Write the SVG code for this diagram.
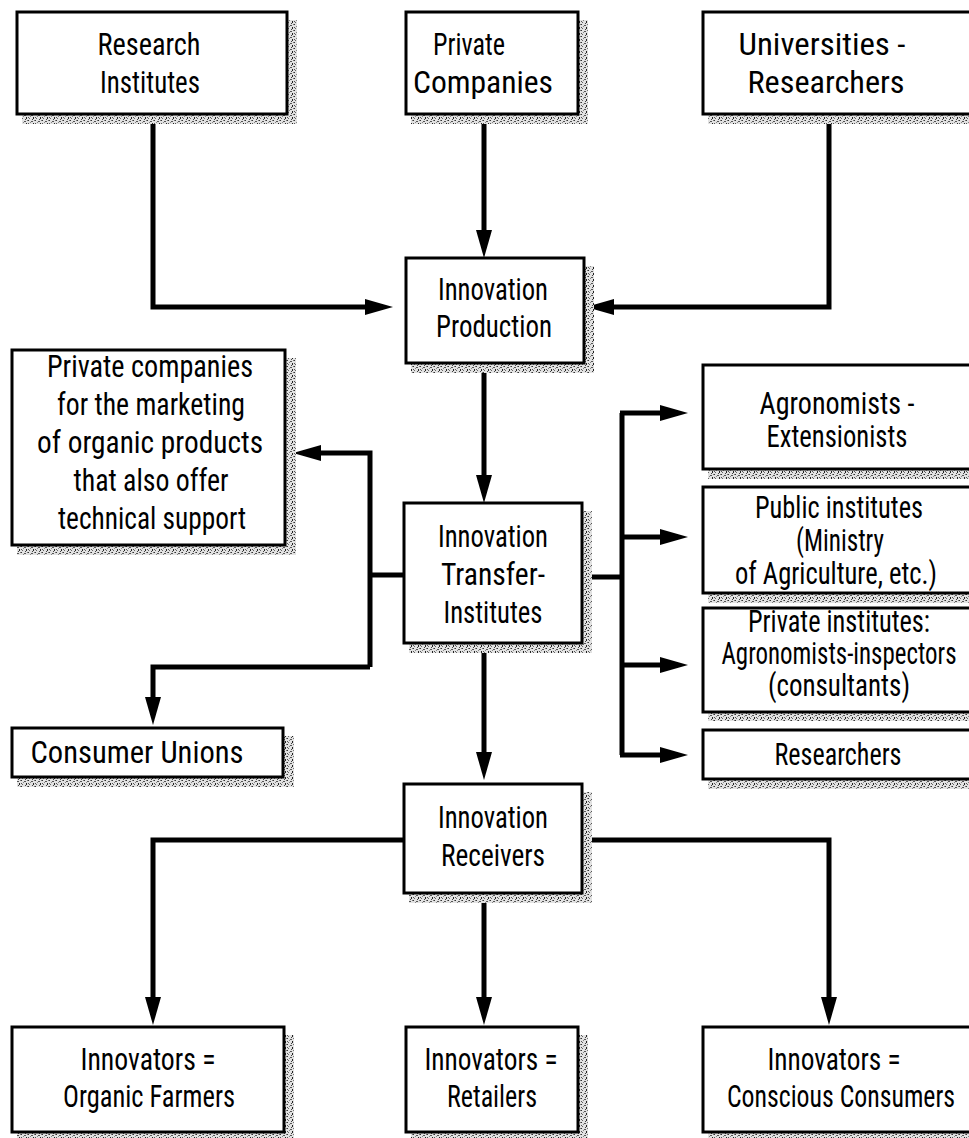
<svg xmlns="http://www.w3.org/2000/svg" width="969" height="1138" viewBox="0 0 969 1138">
<defs>
<pattern id="speck" width="7" height="6" patternUnits="userSpaceOnUse">
<rect width="7" height="6" fill="#e2e2e2"/>
<rect x="0" y="0" width="1" height="1" fill="#333"/>
<rect x="3" y="1" width="2" height="1" fill="#555"/>
<rect x="5" y="3" width="1" height="2" fill="#222"/>
<rect x="1" y="4" width="1" height="1" fill="#666"/>
<rect x="2" y="2" width="1" height="1" fill="#888"/>
<rect x="6" y="0" width="1" height="1" fill="#777"/>
<rect x="4" y="5" width="1" height="1" fill="#444"/>
<rect x="0" y="3" width="1" height="1" fill="#555"/>
</pattern>
<marker id="ah" markerUnits="userSpaceOnUse" markerWidth="30" markerHeight="18" refX="18" refY="8" orient="auto">
<path d="M0,0 L28,8 L0,16 Z" fill="#000"/>
</marker>
</defs>
<style>
.box{fill:#fff;stroke:#000;stroke-width:3}
.sh{fill:url(#speck)}
.c{fill:none;stroke:#000;stroke-width:5;stroke-linejoin:miter}
.a{marker-end:url(#ah)}
text{font-family:"Liberation Sans Narrow","Roboto Condensed","DejaVu Sans Condensed","Liberation Sans",Arial,sans-serif;font-size:32px;fill:#000;text-anchor:middle}
</style>
<rect width="969" height="1138" fill="#fff"/>

<g id="connectors">
<path class="c a" d="M153,114 V307 H383"/>
<path class="c a" d="M484,114 V248"/>
<path class="c a" d="M829,114 V307 H596"/>
<path class="c a" d="M484,363 V493"/>
<path class="c" d="M404,575 H370"/>
<path class="c a" d="M370,667 V453 H303"/>
<path class="c a" d="M370,667 H153 V715"/>
<path class="c" d="M583,577 H622"/>
<path class="c" d="M622,413 V755"/>
<path class="c a" d="M620,413 H678"/>
<path class="c a" d="M620,537 H678"/>
<path class="c a" d="M620,665 H678"/>
<path class="c a" d="M620,755 H678"/>
<path class="c a" d="M484,643 V770"/>
<path class="c a" d="M404,840 H153 V1015"/>
<path class="c a" d="M484,893 V1015"/>
<path class="c a" d="M582,840 H829 V1015"/>
</g>

<g id="research-institutes">
<rect class="sh" x="287" y="20" width="10" height="104"/>
<rect class="sh" x="22" y="114" width="275" height="10"/>
<rect class="box" x="17" y="12" width="270" height="102"/>
<text x="149" y="55" textLength="103" lengthAdjust="spacingAndGlyphs">Research</text>
<text x="150" y="93" textLength="100" lengthAdjust="spacingAndGlyphs">Institutes</text>
</g>

<g id="private-companies-top">
<rect class="sh" x="578" y="20" width="10" height="104"/>
<rect class="sh" x="411" y="114" width="177" height="10"/>
<rect class="box" x="406" y="12" width="172" height="102"/>
<text x="469" y="55" textLength="72" lengthAdjust="spacingAndGlyphs">Private</text>
<text x="483" y="93" textLength="140" lengthAdjust="spacingAndGlyphs">Companies</text>
</g>

<g id="universities">
<rect class="sh" x="708" y="114" width="261" height="10"/>
<rect class="box" x="703" y="12" width="272" height="102"/>
<text x="822" y="55" textLength="167" lengthAdjust="spacingAndGlyphs">Universities -</text>
<text x="826" y="93" textLength="157" lengthAdjust="spacingAndGlyphs">Researchers</text>
</g>

<g id="innovation-production">
<rect class="sh" x="584" y="266" width="10" height="107"/>
<rect class="sh" x="411" y="363" width="183" height="10"/>
<rect class="box" x="406" y="258" width="178" height="105"/>
<text x="493" y="300" textLength="110" lengthAdjust="spacingAndGlyphs">Innovation</text>
<text x="494" y="337" textLength="116" lengthAdjust="spacingAndGlyphs">Production</text>
</g>

<g id="private-companies-marketing">
<rect class="sh" x="285" y="358" width="11" height="197"/>
<rect class="sh" x="17" y="545" width="279" height="10"/>
<rect class="box" x="12" y="350" width="273" height="195"/>
<text x="150" y="377" textLength="206" lengthAdjust="spacingAndGlyphs">Private companies</text>
<text x="151" y="415" textLength="188" lengthAdjust="spacingAndGlyphs">for the marketing</text>
<text x="150" y="453" textLength="226" lengthAdjust="spacingAndGlyphs">of organic products</text>
<text x="151" y="491" textLength="155" lengthAdjust="spacingAndGlyphs">that also offer</text>
<text x="152" y="529" textLength="188" lengthAdjust="spacingAndGlyphs">technical support</text>
</g>

<g id="innovation-transfer">
<rect class="sh" x="582" y="511" width="10" height="142"/>
<rect class="sh" x="409" y="643" width="183" height="10"/>
<rect class="box" x="404" y="503" width="178" height="140"/>
<text x="493" y="547" textLength="110" lengthAdjust="spacingAndGlyphs">Innovation</text>
<text x="493" y="585" textLength="104" lengthAdjust="spacingAndGlyphs">Transfer-</text>
<text x="493" y="623" textLength="99" lengthAdjust="spacingAndGlyphs">Institutes</text>
</g>

<g id="agronomists">
<rect class="sh" x="708" y="469" width="261" height="10"/>
<rect class="box" x="703" y="365" width="272" height="104"/>
<text x="837" y="414" textLength="155" lengthAdjust="spacingAndGlyphs">Agronomists -</text>
<text x="837" y="447" textLength="141" lengthAdjust="spacingAndGlyphs">Extensionists</text>
</g>

<g id="public-institutes">
<rect class="sh" x="708" y="593" width="261" height="10"/>
<rect class="box" x="703" y="487" width="272" height="106"/>
<text x="839" y="518" textLength="168" lengthAdjust="spacingAndGlyphs">Public institutes</text>
<text x="840" y="551" textLength="88" lengthAdjust="spacingAndGlyphs">(Ministry</text>
<text x="836" y="584" textLength="202" lengthAdjust="spacingAndGlyphs">of Agriculture, etc.)</text>
</g>

<g id="private-institutes">
<rect class="sh" x="708" y="712" width="261" height="9"/>
<rect class="box" x="703" y="608" width="272" height="104"/>
<text x="839" y="632" textLength="182" lengthAdjust="spacingAndGlyphs">Private institutes:</text>
<text x="839" y="664" textLength="235" lengthAdjust="spacingAndGlyphs">Agronomists-inspectors</text>
<text x="839" y="696" textLength="142" lengthAdjust="spacingAndGlyphs">(consultants)</text>
</g>

<g id="researchers">
<rect class="sh" x="708" y="779" width="261" height="10"/>
<rect class="box" x="703" y="730" width="272" height="49"/>
<text x="838" y="765" textLength="127" lengthAdjust="spacingAndGlyphs">Researchers</text>
</g>

<g id="consumer-unions">
<rect class="sh" x="283" y="736" width="11" height="51"/>
<rect class="sh" x="17" y="777" width="277" height="10"/>
<rect class="box" x="12" y="728" width="271" height="49"/>
<text x="137" y="763" textLength="213" lengthAdjust="spacingAndGlyphs">Consumer Unions</text>
</g>

<g id="innovation-receivers">
<rect class="sh" x="582" y="792" width="10" height="111"/>
<rect class="sh" x="409" y="893" width="183" height="10"/>
<rect class="box" x="404" y="784" width="178" height="109"/>
<text x="493" y="828" textLength="110" lengthAdjust="spacingAndGlyphs">Innovation</text>
<text x="493" y="866" textLength="104" lengthAdjust="spacingAndGlyphs">Receivers</text>
</g>

<g id="organic-farmers">
<rect class="sh" x="284" y="1035" width="10" height="103"/>
<rect class="sh" x="17" y="1132" width="277" height="6"/>
<rect class="box" x="12" y="1027" width="272" height="105"/>
<text x="148" y="1070" textLength="135" lengthAdjust="spacingAndGlyphs">Innovators =</text>
<text x="149" y="1107" textLength="172" lengthAdjust="spacingAndGlyphs">Organic Farmers</text>
</g>

<g id="retailers">
<rect class="sh" x="578" y="1035" width="10" height="103"/>
<rect class="sh" x="411" y="1132" width="177" height="6"/>
<rect class="box" x="406" y="1027" width="172" height="105"/>
<text x="491" y="1070" textLength="133" lengthAdjust="spacingAndGlyphs">Innovators =</text>
<text x="492" y="1107" textLength="90" lengthAdjust="spacingAndGlyphs">Retailers</text>
</g>

<g id="conscious-consumers">
<rect class="sh" x="708" y="1132" width="261" height="6"/>
<rect class="box" x="703" y="1027" width="272" height="105"/>
<text x="834" y="1070" textLength="133" lengthAdjust="spacingAndGlyphs">Innovators =</text>
<text x="841" y="1107" textLength="228" lengthAdjust="spacingAndGlyphs">Conscious Consumers</text>
</g>
</svg>
